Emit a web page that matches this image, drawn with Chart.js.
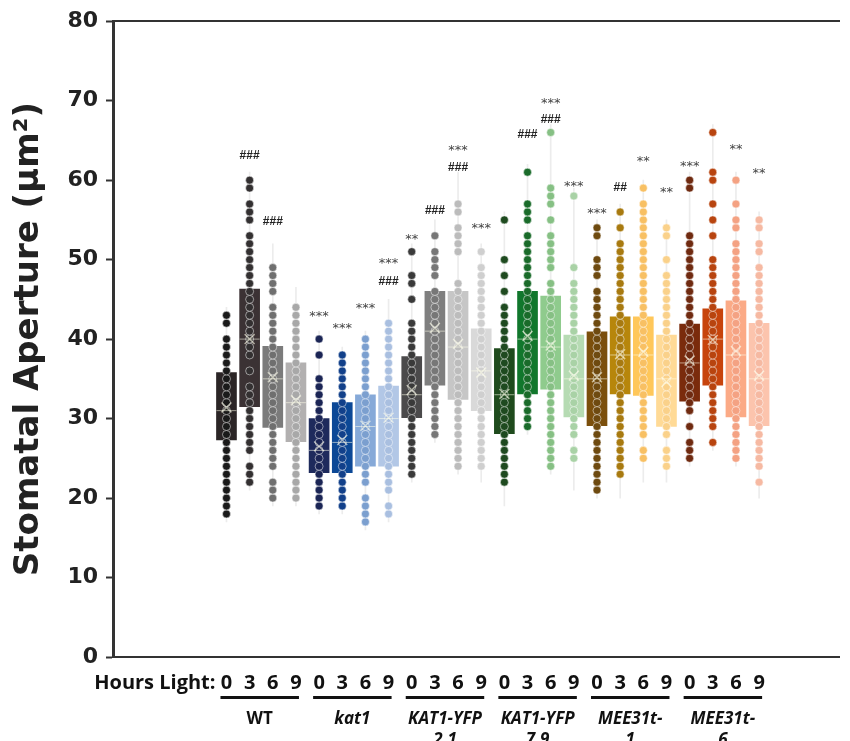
<!DOCTYPE html>
<html>
<head>
<meta charset="utf-8">
<script src="https://cdn.jsdelivr.net/npm/chart.js@4.4.1/dist/chart.umd.min.js"></script>
<style>
  html, body { margin: 0; padding: 0; background: #fff; }
  #chartArea { width: 850px; height: 741px; }
</style>
</head>
<body>
<div id="chartArea"><canvas id="myChart"></canvas></div>
<script>
// genotypes (two text lines each) and hours of light
const groupLine1 = ['WT', 'kat1', 'KAT1-YFP', 'KAT1-YFP', 'MEE31t-', 'MEE31t-'];
const groupLine2 = ['', '', '2.1', '7.9', '1', '6'];
const hours = [0, 3, 6, 9];

// box statistics, one value per box (6 genotypes x 4 time points)
const q1 = [27.3, 31.5, 28.9, 27.1, 23.2, 23.2, 24.0, 24.0, 30.1, 34.2, 32.4, 31.0,
  28.1, 33.1, 33.7, 30.2, 29.1, 33.1, 32.9, 29.0, 32.2, 34.2, 30.2, 29.1];
const q3 = [35.8, 46.3, 39.1, 37.0, 30.0, 32.0, 33.0, 34.1, 37.8, 46.0, 46.0, 41.3,
  38.8, 46.0, 45.4, 40.5, 40.9, 42.8, 42.8, 40.5, 41.9, 43.8, 44.8, 42.0];
const medians = [31, 40, 35, 32, 26, 27, 29, 30, 33, 41, 39, 36,
  33, 40, 39, 35, 35, 38, 38, 35, 37, 40, 38, 35];
const means = [31.4, 40.0, 35.2, 32.3, 26.5, 27.3, 29.1, 30.1, 33.6, 41.4, 39.4, 35.8,
  33.1, 40.4, 39.2, 35.4, 35.2, 38.1, 38.4, 34.6, 37.3, 39.9, 38.5, 35.4];
const whiskLo = [17, 21, 19, 19, 18, 18, 16, 17, 22, 27, 23, 22,
  19, 28, 23, 21, 20, 20, 22, 22, 24, 26, 24, 20];
const whiskHi = [44, 61, 52, 46.5, 41, 39, 41, 45, 52, 55, 61, 52,
  56, 62, 67, 59, 55, 57, 60, 55, 61, 67, 61, 56];

// individual stomata
const dots = [
  [18,19,20,21,22,23,24,25,26,27,28,29,30,31,32,33,34,35,36,37,38,39,40,42,43],
  [22,23,24,26,27,28,29,30,31,32,33,34,36,38,39,40,41,42,43,44,45,46,47,48,49,50,51,52,53,55,56,57,59,60],
  [20,21,22,24,25,26,27,28,29,30,31,32,33,34,35,36,37,38,39,40,41,42,43,44,46,47,48,49],
  [20,21,22,23,24,25,26,27,28,29,30,31,32,33,34,35,36,37,38,39,40,41,42,43,44],
  [19,20,21,22,23,24,25,26,27,28,29,30,31,32,33,34,35,38,40],
  [19,20,21,22,23,24,25,26,27,28,29,30,31,32,33,34,35,36,37,38],
  [17,18,19,20,22,23,24,25,26,27,28,29,30,31,32,33,34,35,36,37,38,39,40],
  [18,19,21,22,23,24,25,26,27,28,29,30,31,32,33,34,35,36,37,38,39,40,41,42],
  [23,24,25,26,27,28,29,30,31,32,33,34,35,36,37,38,39,40,41,42,45,47,48,51],
  [28,29,30,31,32,33,34,35,36,37,38,39,40,41,42,43,44,45,46,48,49,50,51,53],
  [24,25,26,27,28,29,30,31,32,33,34,35,36,37,38,39,40,41,42,43,44,45,46,47,51,52,53,54,56,57],
  [24,25,26,27,28,29,30,31,32,33,34,35,36,37,38,39,40,41,42,43,44,45,46,47,48,49,51],
  [22,23,24,25,26,27,28,29,30,31,32,33,34,35,36,37,38,39,40,41,42,43,44,46,48,50,55],
  [29,30,31,32,33,34,35,36,37,38,39,40,41,42,43,44,45,46,47,48,49,50,51,52,53,55,56,57,61],
  [24,25,26,27,28,29,30,31,32,33,34,35,36,37,38,39,40,41,42,43,44,45,46,47,49,50,51,52,53,55,57,58,59,66],
  [25,26,28,29,30,31,32,33,34,35,36,37,38,39,40,41,42,43,44,45,46,47,49,58],
  [21,22,23,24,25,26,27,28,29,30,31,32,33,34,35,36,37,38,39,40,41,42,43,44,45,46,48,49,50,53,54],
  [23,24,25,26,27,28,29,30,31,32,33,34,35,36,37,38,39,40,41,42,43,44,45,46,47,48,49,50,51,52,54,56],
  [25,26,28,29,30,31,32,33,34,35,36,37,38,39,40,41,42,43,44,45,46,47,48,49,50,51,52,53,54,55,56,57,59],
  [24,25,26,28,29,30,31,32,33,34,35,36,37,38,39,40,41,42,43,44,45,46,47,48,50,53,54],
  [25,26,27,29,31,32,33,34,35,36,37,38,39,40,41,42,43,44,45,46,47,48,49,50,51,52,53,59,60],
  [27,29,30,31,32,33,34,35,36,37,38,39,40,41,42,43,44,45,46,47,48,49,50,53,55,57,60,61,66],
  [25,26,27,28,29,30,31,32,33,34,35,36,37,38,39,40,41,42,43,44,45,46,47,48,49,50,51,52,54,55,57,60],
  [22,24,25,26,27,28,29,30,31,32,33,34,35,36,37,38,39,40,41,42,43,44,45,46,47,48,49,51,52,54,55]
];

// significance marks above the boxes
const sigTop = ['', '###', '###', '', '***', '***', '***', '***', '**', '###', '***', '***',
  '', '###', '***', '***', '***', '##', '**', '**', '***', '', '**', '**'];
const sigTopY = [0, 63.2, 54.8, 0, 43.4, 41.8, 44.4, 50.0, 53.0, 56.3, 64.2, 54.4,
  0, 65.8, 70.1, 59.7, 56.3, 59.2, 62.8, 58.9, 62.2, 0, 64.4, 61.3];
const sigLow = ['', '', '', '', '', '', '', '###', '', '', '###', '',
  '', '', '###', '', '', '', '', '', '', '', '', ''];
const sigLowY = [0, 0, 0, 0, 0, 0, 0, 47.3, 0, 0, 61.7, 0,
  0, 0, 67.7, 0, 0, 0, 0, 0, 0, 0, 0, 0];

const boxColors = ['#2b2526', '#3b3234', '#7b7b7b', '#b2b0b0',
  '#1e2a5c', '#0c4896', '#86a9d8', '#b2c7e6',
  '#4b4a4b', '#7f7f7f', '#c6c6c6', '#d9d9d9',
  '#1f4b1d', '#11772c', '#8fcb8d', '#b6dbb3',
  '#7b4f0c', '#b7860b', '#ffc75a', '#ffda96',
  '#7a2b0c', '#c7440c', '#fbaa86', '#fcc4ad'];
const dotColors = ['#1a1a1a', '#333031', '#6f6f6f', '#a8a8a8',
  '#1b2555', '#12408a', '#7b9fcf', '#a9bfe0',
  '#3a3a3a', '#777777', '#bcbcbc', '#cfcfcf',
  '#1e4a1f', '#1a6b2a', '#86c084', '#a9d2a6',
  '#6e4a10', '#a87a10', '#f8c063', '#fad18a',
  '#6f2a10', '#b8440f', '#f4a283', '#f6b9a2'];

const idx = q1.map((v, i) => i);
const dotPoints = [];
dots.forEach((list, i) => list.forEach(v => dotPoints.push({ x: i, y: v })));

const extraText = {
  id: 'extraText',
  afterDatasetsDraw(chart) {
    const { ctx, scales: { x, y } } = chart;
    ctx.save();
    ctx.textAlign = 'center';
    ctx.textBaseline = 'alphabetic';
    const drawSig = (txt, val, i) => {
      if (!txt) return;
      const px = x.getPixelForValue(i);
      const py = y.getPixelForValue(val);
      if (txt[0] === '#') {
        ctx.font = 'bold 12px "Liberation Sans"';
        ctx.fillStyle = '#222';
        ctx.fillText(txt, px, py + 4);
      } else {
        ctx.font = '13px "DejaVu Sans"';
        ctx.fillStyle = '#444';
        ctx.fillText(txt, px, py + 7.5);
      }
    };
    idx.forEach(i => {
      drawSig(sigTop[i], sigTopY[i], i);
      drawSig(sigLow[i], sigLowY[i], i);
    });
    ctx.restore();
  },
  afterDraw(chart) {
    const { ctx, scales: { x } } = chart;
    const top = x.top;
    ctx.save();
    ctx.fillStyle = '#111';
    ctx.textBaseline = 'middle';
    ctx.font = 'bold 20px "Open Sans"';
    ctx.textAlign = 'right';
    ctx.fillText('Hours Light:', x.getPixelForValue(0) - 11, top + 26);
    ctx.textAlign = 'center';
    groupLine1.forEach((name, g) => {
      const x0 = x.getPixelForValue(g * 4) - 6;
      const x1 = x.getPixelForValue(g * 4 + 3) + 3;
      ctx.fillRect(x0, top + 39, x1 - x0, 3);
      const cx = (x0 + x1) / 2;
      ctx.font = (g === 0 ? '' : 'italic ') + 'bold 17px "Open Sans"';
      ctx.fillText(name, cx, top + 62);
      if (groupLine2[g]) ctx.fillText(groupLine2[g], cx, top + 83);
    });
    ctx.restore();
  }
};

new Chart('myChart', {
  type: 'bar',
  data: {
    datasets: [
      {
        label: 'whiskers',
        data: idx.map(i => ({ x: i, y: [whiskLo[i], whiskHi[i]] })),
        backgroundColor: '#ececec',
        barThickness: 1,
        grouped: false,
        order: 5
      },
      {
        label: 'boxes',
        data: idx.map(i => ({ x: i, y: [q1[i], q3[i]] })),
        backgroundColor: boxColors,
        barThickness: 20,
        grouped: false,
        order: 4
      },
      {
        type: 'scatter',
        label: 'stomata',
        data: dotPoints,
        pointRadius: 4,
        pointBackgroundColor: c => dotColors[c.raw ? c.raw.x : 0],
        pointBorderColor: 'rgba(255,255,255,0.5)',
        pointBorderWidth: 1,
        order: 3
      },
      {
        type: 'scatter',
        label: 'median',
        data: idx.map(i => ({ x: i, y: medians[i] })),
        pointStyle: 'line',
        pointRadius: 10,
        pointBorderColor: 'rgba(255,255,235,0.55)',
        pointBorderWidth: 1,
        order: 2
      },
      {
        type: 'scatter',
        label: 'mean',
        data: idx.map(i => ({ x: i, y: means[i] })),
        pointStyle: 'crossRot',
        pointRadius: 7,
        pointBorderColor: 'rgba(255,255,235,0.6)',
        pointBorderWidth: 1.5,
        order: 1
      }
    ]
  },
  options: {
    responsive: true,
    maintainAspectRatio: false,
    animation: false,
    events: [],
    layout: { padding: { top: 18, right: 0, left: 0, bottom: 0 } },
    plugins: { legend: { display: false }, tooltip: { enabled: false } },
    scales: {
      x: {
        type: 'linear',
        min: -4.9,
        max: 26.45,
        offset: false,
        afterBuildTicks: axis => { axis.ticks = idx.map(i => ({ value: i })); },
        afterFit: axis => { axis.height = 84; },
        ticks: {
          autoSkip: false,
          maxRotation: 0,
          padding: 14,
          color: '#111',
          font: { family: 'Open Sans', size: 20, weight: 'bold' },
          callback: (v, i) => hours[i % 4]
        },
        grid: { drawOnChartArea: false, drawTicks: false, offset: false },
        border: { color: '#333', width: 2 }
      },
      x2: {
        type: 'linear',
        position: 'top',
        min: -4.9,
        max: 26.45,
        afterFit: axis => { axis.height = 0; },
        ticks: { display: false },
        grid: { drawOnChartArea: false, drawTicks: false },
        border: { color: '#333', width: 2 }
      },
      y: {
        min: 0,
        max: 80,
        afterFit: axis => { axis.width = 113; },
        ticks: {
          stepSize: 10,
          padding: 8,
          color: '#222',
          font: { family: 'DejaVu Sans', size: 22, weight: 'bold' }
        },
        grid: { drawOnChartArea: false, tickLength: 7, tickWidth: 2, tickColor: '#333' },
        border: { color: '#333', width: 3 },
        title: {
          display: true,
          text: 'Stomatal Aperture (μm²)',
          color: '#222',
          padding: { top: 9, bottom: 0 },
          font: { family: 'DejaVu Sans', size: 34, weight: 'bold' }
        }
      }
    }
  },
  plugins: [extraText]
});
</script>
</body>
</html>
